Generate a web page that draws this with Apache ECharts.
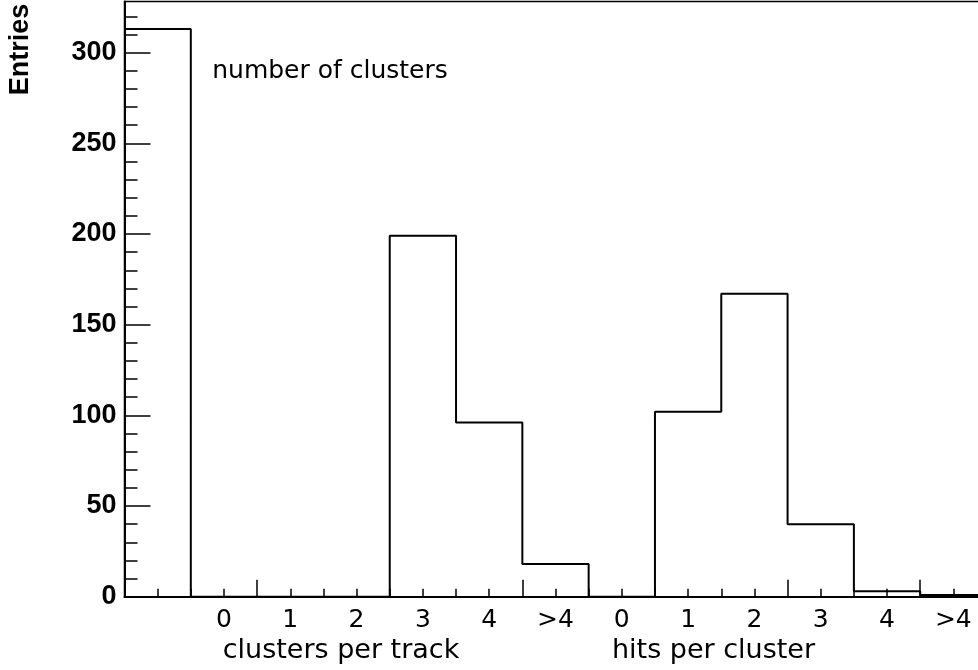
<!DOCTYPE html>
<html>
<head>
<meta charset="utf-8">
<script src="https://cdn.jsdelivr.net/npm/echarts@6/dist/echarts.min.js"></script>
<style>html,body{margin:0;padding:0;background:#fff;}#c{width:978px;height:670px;}</style>
</head>
<body>
<div id="c"></div>
<script>
// ---- data ----
var binLabels = ['', '0', '1', '2', '3', '4', '>4', '0', '1', '2', '3', '4', '>4'];
var binValues = [313, 0, 0, 0, 199, 96, 18, 0, 102, 167, 40, 3, 1];
var yTickValues = [0, 50, 100, 150, 200, 250, 300];
var yMinorTickValues = [10, 20, 30, 40, 60, 70, 80, 90, 110, 120, 130, 140, 160, 170, 180, 190, 210, 220, 230, 240, 260, 270, 280, 290, 310, 320];
var xLongTickValues = [2, 6, 10, 12];
var yMax = 328.2;
var titleLeft = 'clusters per track';
var titleRight = 'hits per cluster';
var histTitle = 'number of clusters';
var yTitle = 'Entries';

// step outline points built from the bin values
var stepData = binValues.map(function (v, i) { return [i, v]; });
stepData.push([binValues.length, binValues[binValues.length - 1]]);

var gridGeom = { left: 124.5, top: 1.5, width: 862, height: 595.2, outerBoundsMode: 'none', containLabel: false };
function grid(extra) { return Object.assign({}, gridGeom, extra || {}); }

var chart = echarts.init(document.getElementById('c'), null, { renderer: 'canvas' });
chart.setOption({
  backgroundColor: '#fff',
  animation: false,
  grid: [
    grid({ show: true, borderColor: '#000', borderWidth: 1.5, backgroundColor: 'transparent' }),
    grid(),
    grid()
  ],
  xAxis: [
    {
      gridIndex: 0, type: 'value', min: 0, max: binValues.length, interval: 0.5,
      axisLine: { show: true, lineStyle: { color: '#000', width: 2 } },
      axisTick: { show: true, inside: true, length: 8, lineStyle: { color: '#000', width: 1.5 } },
      axisLabel: { show: false }, splitLine: { show: false }
    },
    {
      gridIndex: 1, type: 'category', data: binLabels, boundaryGap: true,
      axisLine: { show: false }, axisTick: { show: false }, splitLine: { show: false },
      axisLabel: { show: true, interval: 0, margin: 11, color: '#000', fontFamily: 'DejaVu Sans', fontSize: 25 }
    },
    {
      gridIndex: 2, type: 'value', min: 0, max: binValues.length,
      axisLine: { show: false },
      axisTick: { show: true, inside: true, length: 17, customValues: xLongTickValues, lineStyle: { color: '#000', width: 1.5 } },
      axisLabel: { show: false }, splitLine: { show: false }
    }
  ],
  yAxis: [
    {
      gridIndex: 0, type: 'value', min: 0, max: yMax,
      axisLine: { show: true, lineStyle: { color: '#000', width: 2 } },
      axisTick: { show: true, inside: true, length: 26, customValues: yTickValues, lineStyle: { color: '#000', width: 1.5 } },
      axisLabel: { show: true, customValues: yTickValues, margin: 8, color: '#000', fontFamily: 'Liberation Sans', fontWeight: 'bold', fontSize: 27 },
      splitLine: { show: false }
    },
    {
      gridIndex: 1, type: 'value', min: 0, max: yMax,
      axisLine: { show: false },
      axisTick: { show: true, inside: true, length: 13, customValues: yMinorTickValues, lineStyle: { color: '#000', width: 1.5 } },
      axisLabel: { show: false }, splitLine: { show: false }
    },
    {
      gridIndex: 2, type: 'value', min: 0, max: yMax, show: false
    }
  ],
  series: [
    {
      type: 'line', xAxisIndex: 0, yAxisIndex: 0, step: 'end',
      data: stepData, symbol: 'none', silent: true,
      lineStyle: { color: '#000', width: 2 }
    }
  ],
  graphic: [
    { type: 'text', x: 21, y: 49.5, rotation: Math.PI / 2,
      style: { text: yTitle, fill: '#000', font: 'bold 27px "Liberation Sans"', align: 'center', verticalAlign: 'middle' } },
    { type: 'text', x: 330, y: 71.5,
      style: { text: histTitle, fill: '#000', font: '25px "DejaVu Sans"', align: 'center', verticalAlign: 'middle' } },
    { type: 'text', x: 341, y: 651,
      style: { text: titleLeft, fill: '#000', font: '27px "DejaVu Sans"', align: 'center', verticalAlign: 'middle' } },
    { type: 'text', x: 713.5, y: 651,
      style: { text: titleRight, fill: '#000', font: '27px "DejaVu Sans"', align: 'center', verticalAlign: 'middle' } }
  ]
});
</script>
</body>
</html>
